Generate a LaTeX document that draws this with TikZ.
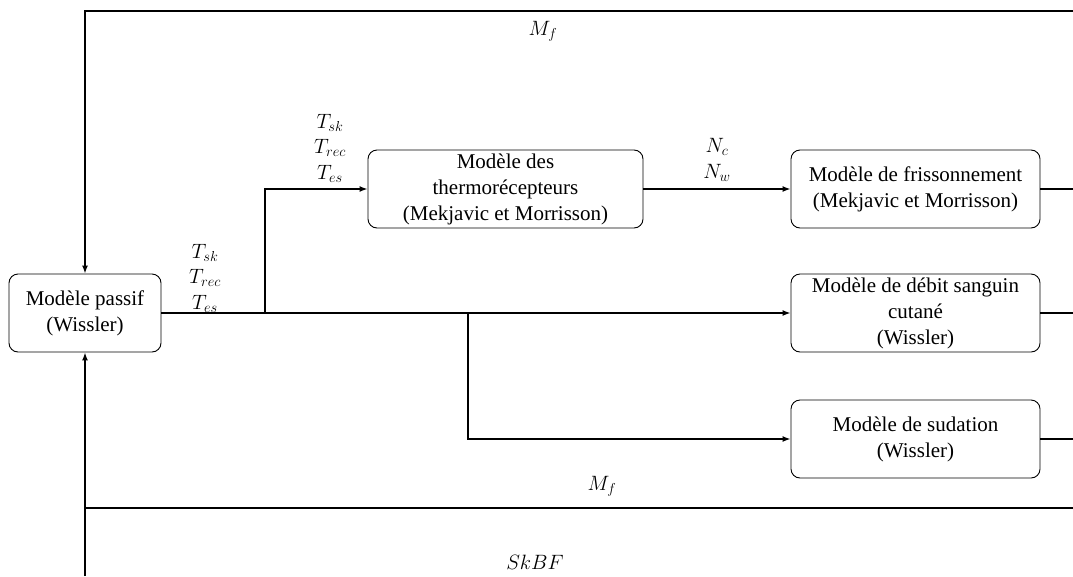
\documentclass[tikz,border=0pt]{standalone}
\usepackage{fontspec}
\setmainfont{Liberation Serif}
\usetikzlibrary{arrows.meta}
\begin{document}
\begin{tikzpicture}[x=1pt,y=-1pt,
  box/.style={draw, rounded corners=9pt, line width=0.9pt, align=center, inner sep=0pt,
     minimum height=78pt, font=\fontsize{21}{26}\selectfont},
  conn/.style={line width=1.5pt},
  arr/.style={conn, -{Latex[length=8pt,width=6pt]}},
  lbl/.style={align=center, inner sep=0pt, font=\fontsize{21}{25.5}\selectfont}]
\useasboundingbox (0,0) rectangle (1073,576);
\node[box, minimum width=152pt] (passive) at (85,313) {Modèle passif\\(Wissler)};
\node[box, minimum width=275pt] (thermo) at (505.5,189) {Modèle des\\thermorécepteurs\\(Mekjavic et Morrisson)};
\node[box, minimum width=249pt] (friss) at (915.5,189) {Modèle de frissonnement\\(Mekjavic et Morrisson)};
\node[box, minimum width=249pt] (debit) at (915.5,313) {Modèle de débit sanguin\\cutané\\(Wissler)};
\node[box, minimum width=249pt] (sud) at (915.5,439) {Modèle de sudation\\(Wissler)};

\coordinate (tr) at (1073,11);
\coordinate (fr) at (1073,189);
\coordinate (dr) at (1073,313);
\coordinate (sr) at (1073,439);
\coordinate (br) at (1073,508);
\coordinate (bl) at (85,508);
\coordinate (bb) at (85,576);
\coordinate (b1) at (265,313);
\coordinate (b2) at (468,313);

\draw[arr] (tr) -| (passive.north);
\draw[arr] (bb) -- (passive.south);
\draw[conn] (br) -- (bl);
\draw[arr] (passive.east) -- (debit.west);
\draw[arr] (b1) |- (thermo.west);
\draw[arr] (b2) |- (sud.west);
\draw[arr] (thermo.east) -- (friss.west);
\draw[conn] (friss.east) -- (fr);
\draw[conn] (debit.east) -- (dr);
\draw[conn] (sud.east) -- (sr);

\node[lbl] (mf1) at (543,31) {$M_f$};
\node[lbl] (t1) at (330,148) {$T_{sk}$\\$T_{rec}$\\$T_{es}$};
\node[lbl] (t2) at (205,278) {$T_{sk}$\\$T_{rec}$\\$T_{es}$};
\node[lbl] (n) at (717,160) {$N_c$\\$N_w$};
\node[lbl] (mf2) at (602,486) {$M_f$};
\node[lbl] (skbf) at (535,562) {$SkBF$};
\end{tikzpicture}
\end{document}
